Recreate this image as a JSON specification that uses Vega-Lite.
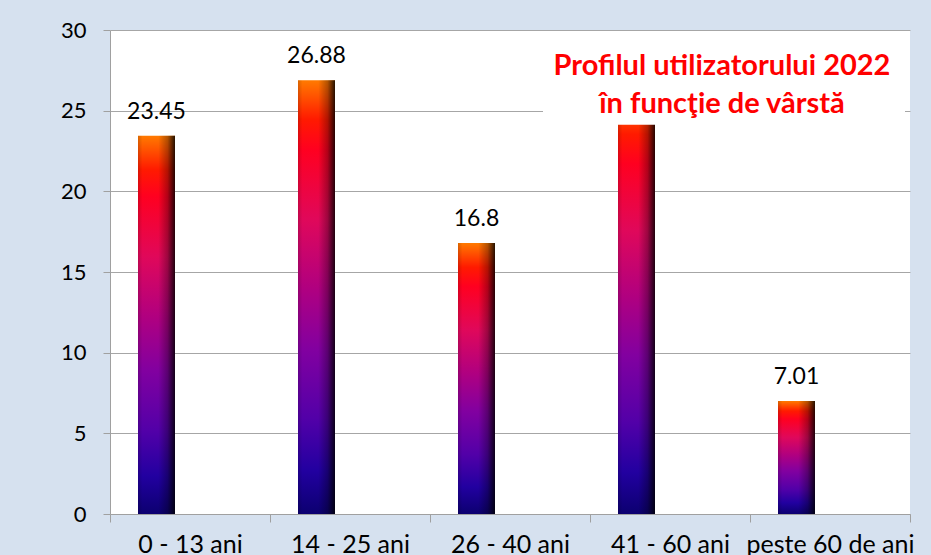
{
  "$schema": "https://vega.github.io/schema/vega-lite/v6.json",
  "width": 800,
  "height": 484,
  "autosize": {"type": "none"},
  "padding": {"left": 110, "top": 30, "right": 21, "bottom": 41},
  "background": "#d6e1ef",
  "config": {"view": {"fill": "white", "stroke": null}, "font": "Lato"},
  "title": {
    "text": ["Profilul utilizatorului 2022", "în funcţie de vârstă"],
    "color": "#ff0000",
    "font": "Lato",
    "fontSize": 29,
    "fontWeight": "bold",
    "anchor": "middle",
    "frame": "group",
    "orient": "top",
    "baseline": "top",
    "lineHeight": 38,
    "offset": 0,
    "dx": 212,
    "dy": 100
  },
  "data": {
    "values": [
      {"grupa": "0 - 13 ani", "procent": 23.45},
      {"grupa": "14 - 25 ani", "procent": 26.88},
      {"grupa": "26 - 40 ani", "procent": 16.8},
      {"grupa": "41 - 60 ani", "procent": 25.86},
      {"grupa": "peste 60 de ani", "procent": 7.01}
    ]
  },
  "encoding": {
    "x": {
      "field": "grupa",
      "type": "nominal",
      "sort": null,
      "scale": {"paddingInner": 0, "paddingOuter": 0},
      "axis": {
        "title": null,
        "labelAngle": 0,
        "labelFontSize": 25,
        "labelColor": "#000000",
        "labelPadding": 10,
        "tickSize": 8,
        "tickBand": "extent",
        "tickColor": "#a0a0a0",
        "domainColor": "#a0a0a0",
        "grid": false
      }
    },
    "y": {
      "field": "procent",
      "type": "quantitative",
      "scale": {"domain": [0, 30], "nice": false},
      "axis": {
        "title": null,
        "values": [0, 5, 10, 15, 20, 25, 30],
        "labelFontSize": 22,
        "labelColor": "#000000",
        "labelPadding": 17,
        "tickSize": 7,
        "tickColor": "#a0a0a0",
        "domainColor": "#a0a0a0",
        "gridColor": "#a6a6a6"
      }
    }
  },
  "layer": [
    {
      "mark": {
        "type": "bar",
        "width": 37,
        "xOffset": -33.5,
        "color": {
          "gradient": "linear",
          "x1": 0, "y1": 0, "x2": 0, "y2": 1,
          "stops": [
            {"offset": 0, "color": "#ff7a00"},
            {"offset": 0.09, "color": "#ff1a00"},
            {"offset": 0.16, "color": "#ff0020"},
            {"offset": 0.32, "color": "#e0085a"},
            {"offset": 0.48, "color": "#b00080"},
            {"offset": 0.62, "color": "#8200a0"},
            {"offset": 0.78, "color": "#5200a8"},
            {"offset": 0.9, "color": "#2200a0"},
            {"offset": 1, "color": "#0c0070"}
          ]
        }
      }
    },
    {
      "mark": {
        "type": "bar",
        "width": 37,
        "xOffset": -33.5,
        "color": {
          "gradient": "linear",
          "x1": 0, "y1": 0, "x2": 1, "y2": 0,
          "stops": [
            {"offset": 0, "color": "rgba(0,0,0,0.15)"},
            {"offset": 0.12, "color": "rgba(0,0,0,0)"},
            {"offset": 0.55, "color": "rgba(0,0,0,0)"},
            {"offset": 0.8, "color": "rgba(0,0,0,0.3)"},
            {"offset": 1, "color": "rgba(0,0,0,0.85)"}
          ]
        }
      }
    },
    {
      "transform": [{"filter": "datum.grupa !== '41 - 60 ani'"}],
      "mark": {
        "type": "text",
        "xOffset": -33.5,
        "dy": -17,
        "baseline": "alphabetic",
        "fontSize": 23,
        "color": "#000000"
      },
      "encoding": {"text": {"field": "procent", "type": "quantitative"}}
    },
    {
      "transform": [{"filter": "datum.grupa === '41 - 60 ani'"}],
      "mark": {"type": "bar", "color": "#ffffff", "width": 362, "xOffset": 54},
      "encoding": {
        "y": {"datum": 29.7, "type": "quantitative", "stack": null},
        "y2": {"datum": 24.12}
      }
    }
  ]
}
